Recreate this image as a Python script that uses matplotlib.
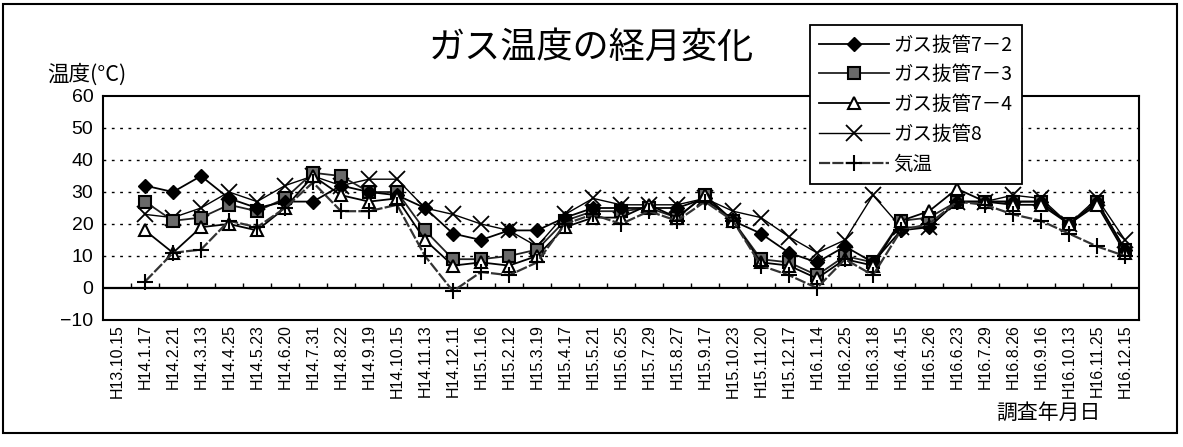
import numpy as np
import matplotlib
matplotlib.use("Agg")
import matplotlib.pyplot as plt
from matplotlib.patches import Rectangle

plt.rcParams['font.family'] = ['Liberation Sans', 'Noto Sans CJK JP', 'DejaVu Sans']
JP = ['Noto Sans CJK JP', 'DejaVu Sans']

dates = ['H13.10.15', 'H14.1.17', 'H14.2.21', 'H14.3.13', 'H14.4.25', 'H14.5.23',
         'H14.6.20', 'H14.7.31', 'H14.8.22', 'H14.9.19', 'H14.10.15', 'H14.11.13',
         'H14.12.11', 'H15.1.16', 'H15.2.12', 'H15.3.19', 'H15.4.17', 'H15.5.21',
         'H15.6.25', 'H15.7.29', 'H15.8.27', 'H15.9.17', 'H15.10.23', 'H15.11.20',
         'H15.12.17', 'H16.1.14', 'H16.2.25', 'H16.3.18', 'H16.4.15', 'H16.5.26',
         'H16.6.23', 'H16.7.29', 'H16.8.26', 'H16.9.16', 'H16.10.13', 'H16.11.25',
         'H16.12.15']

nan = np.nan
pipe_7_2 = [nan, 32, 30, 35, 28, 25, 27, 27, 32, 30, 29, 25, 17, 15, 18, 18, 22, 25, 25,
            25, 25, 28, 21, 17, 11, 8, 13, 8, 18, 19, 27, 27, 27, 27, 20, 27, 12]
pipe_7_3 = [nan, 27, 21, 22, 26, 24, 28, 36, 35, 30, 30, 18, 9, 9, 10, 12, 21, 24, 24,
            25, 22, 29, 21, 9, 8, 4, 10, 8, 21, 22, 27, 27, 27, 27, 20, 27, 12]
pipe_7_4 = [nan, 18, 11, 19, 20, 18, 25, 35, 29, 27, 28, 15, 7, 8, 7, 10, 19, 22, 22,
            26, 22, 29, 21, 8, 7, 3, 9, 7, 21, 24, 31, 27, 26, 26, 20, 26, 11]
pipe_8 = [nan, 23, 22, 25, 30, 27, 32, 35, 32, 34, 34, 25, 23, 20, 18, 13, 23, 28, 26,
          26, 26, 28, 24, 22, 16, 11, 15, 29, 19, 19, 27, 27, 29, 28, 20, 28, 15]
air_temp = [nan, 2, 11, 12, 21, 19, 25, 33, 24, 24, 26, 10, -1, 5, 4, 8, 20, 23, 20,
            24, 21, 27, 21, 7, 4, 0, 9, 4, 18, 20, 27, 26, 23, 21, 17, 13, 10]

W, H = 1183, 447
fig = plt.figure(figsize=(W / 100, H / 100), dpi=100)
ax = fig.add_axes([103 / W, 1 - 320 / H, (1139 - 103) / W, (320 - 96) / H])

x = np.arange(len(dates))
ax.plot(x, pipe_7_2, color='black', lw=1.3, marker='D', ms=7, mfc='black', mec='black',
        label='ガス抜管7－2', zorder=4)
ax.plot(x, pipe_7_3, color='#222222', lw=1.3, marker='s', ms=9, mfc='#6a6a6a', mec='black',
        mew=1.5, label='ガス抜管7－3', zorder=3)
ax.plot(x, pipe_7_4, color='black', lw=1.3, marker='^', ms=8, mfc='white', mec='black',
        mew=1.5, label='ガス抜管7－4', zorder=5)
ax.plot(x, pipe_8, color='black', lw=1.0, marker='x', ms=11, mew=1.3,
        label='ガス抜管8', zorder=2)
ax.plot(x, air_temp, color='#333333', lw=1.6, ls=(0, (5, 1)), marker='+', ms=12, mew=1.5,
        mec='black', label='気温', zorder=6)

ax.set_xlim(-0.5, len(dates) - 0.5)
ax.set_ylim(-10, 60)
ax.set_yticks(np.arange(-10, 61, 10))
ax.set_yticklabels(['−10'] + [str(v) for v in range(0, 61, 10)])
for gy in range(10, 60, 10):
    ax.axhline(gy, color='black', lw=1.0, ls=(0, (2, 4)), zorder=1)
ax.axhline(0, color='black', lw=1.6, zorder=1)
# small ticks on the zero line between categories
ax.vlines(np.arange(len(dates)) + 0.5, 0, 1.6, color='black', lw=1.0, zorder=1)

ax.set_xticks(x)
ax.set_xticklabels(dates, rotation=90, fontsize=11.5)
ax.tick_params(axis='x', length=0, pad=3)
ax.tick_params(axis='y', length=0, pad=7, labelsize=14)
for s in ax.spines.values():
    s.set_linewidth(1.5)

fig.text(0.5, 1 - 48 / H, 'ガス温度の経月変化', ha='center', va='center',
         fontsize=26, family=JP)
fig.text(47 / W, 1 - 75 / H, '温度(°C)', ha='left', va='center', fontsize=15.5, family=JP)
fig.text(1048 / W, 1 - 413 / H, '調査年月日', ha='center', va='center', fontsize=15, family=JP)

leg = ax.legend(loc='upper left', bbox_to_anchor=(800 / W, 1 - 15 / H),
                bbox_transform=fig.transFigure, prop={'family': JP, 'size': 14},
                frameon=True, fancybox=False, edgecolor='black', framealpha=1,
                handlelength=3.6, labelspacing=0.45, borderpad=0.5, handletextpad=0.2)
leg.get_frame().set_linewidth(1.3)

fig.patches.append(Rectangle((3 / W, 1 - 433 / H), (1177 - 3) / W, (433 - 4) / H,
                             transform=fig.transFigure, fill=False, ec='black', lw=1.5))

fig.savefig('out.png', dpi=100)
